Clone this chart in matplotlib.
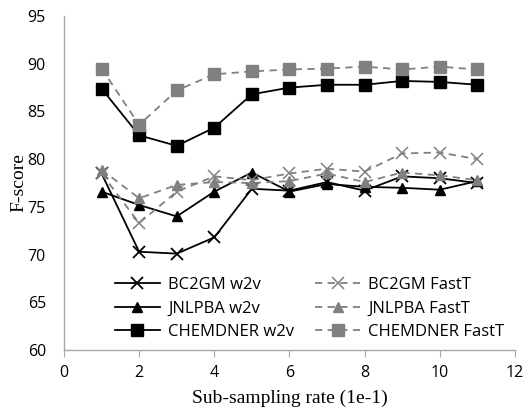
import matplotlib
matplotlib.use('Agg')
import matplotlib.pyplot as plt

# sub-sampling rate (1e-1)
rates = [1, 2, 3, 4, 5, 6, 7, 8, 9, 10, 11]

bc2gm_w2v = [78.5, 70.3, 70.1, 71.8, 76.9, 76.7, 77.6, 76.7, 78.2, 78.0, 77.5]
jnlpba_w2v = [76.6, 75.2, 74.0, 76.6, 78.6, 76.6, 77.4, 77.1, 77.0, 76.8, 77.7]
chemdner_w2v = [87.4, 82.5, 81.4, 83.3, 86.8, 87.5, 87.8, 87.8, 88.2, 88.1, 87.8]
bc2gm_fastt = [78.5, 73.3, 76.6, 78.2, 77.8, 78.5, 79.0, 78.7, 80.6, 80.7, 80.0]
jnlpba_fastt = [78.9, 75.9, 77.3, 77.6, 77.5, 77.7, 78.5, 77.6, 78.6, 78.3, 77.8]
chemdner_fastt = [89.5, 83.6, 87.2, 88.9, 89.2, 89.4, 89.5, 89.7, 89.4, 89.7, 89.4]

GRAY = '#808080'
AXIS_GRAY = '#a6a6a6'
tick_font = 'Open Sans'
label_font = 'Liberation Serif'
dash = (0, (4, 3))

fig = plt.figure(figsize=(5.27, 4.12), dpi=100)
ax = fig.add_axes([0.1214, 0.1505, 0.8556, 0.8105])

ax.plot(rates, bc2gm_w2v, color='black', lw=1.3, marker='x', ms=9, mew=1.3,
        label='BC2GM w2v')
ax.plot(rates, jnlpba_w2v, color='black', lw=1.3, marker='^', ms=7,
        label='JNLPBA w2v')
ax.plot(rates, chemdner_w2v, color='black', lw=1.3, marker='s', ms=8,
        label='CHEMDNER w2v')
ax.plot(rates, bc2gm_fastt, color=GRAY, lw=1.3, ls=dash, marker='x',
        ms=9, mew=1.1, label='BC2GM FastT')
ax.plot(rates, jnlpba_fastt, color=GRAY, lw=1.3, ls=dash, marker='^',
        ms=7, label='JNLPBA FastT')
ax.plot(rates, chemdner_fastt, color=GRAY, lw=1.3, ls=dash, marker='s',
        ms=8, label='CHEMDNER FastT')

ax.set_xlim(0, 12)
ax.set_ylim(60, 95)
ax.set_xticks(range(0, 13, 2))
ax.set_yticks(range(60, 96, 5))

for s in ['top', 'right']:
    ax.spines[s].set_visible(False)
for s in ['left', 'bottom']:
    ax.spines[s].set_color(AXIS_GRAY)
    ax.spines[s].set_linewidth(1.0)

ax.tick_params(axis='x', direction='out', length=5, color=AXIS_GRAY, pad=6)
ax.tick_params(axis='y', length=0, pad=13)
for lbl in ax.get_xticklabels() + ax.get_yticklabels():
    lbl.set_fontfamily(tick_font)
    lbl.set_fontsize(11.5)

ax.set_xlabel('Sub-sampling rate (1e-1)', fontfamily=label_font, fontsize=14,
              labelpad=6)
ax.set_ylabel('F-score', fontfamily=label_font, fontsize=14, labelpad=0)

handles, labels = ax.get_legend_handles_labels()
leg = ax.legend(handles, labels, ncol=2, loc='lower left',
                bbox_to_anchor=(0.113, 0.03), frameon=False,
                prop={'family': tick_font, 'size': 12},
                handlelength=2.7, columnspacing=1.25, labelspacing=0.44,
                handletextpad=0.5, borderpad=0, borderaxespad=0)

plt.savefig('out.png', dpi=100)
plt.close()
